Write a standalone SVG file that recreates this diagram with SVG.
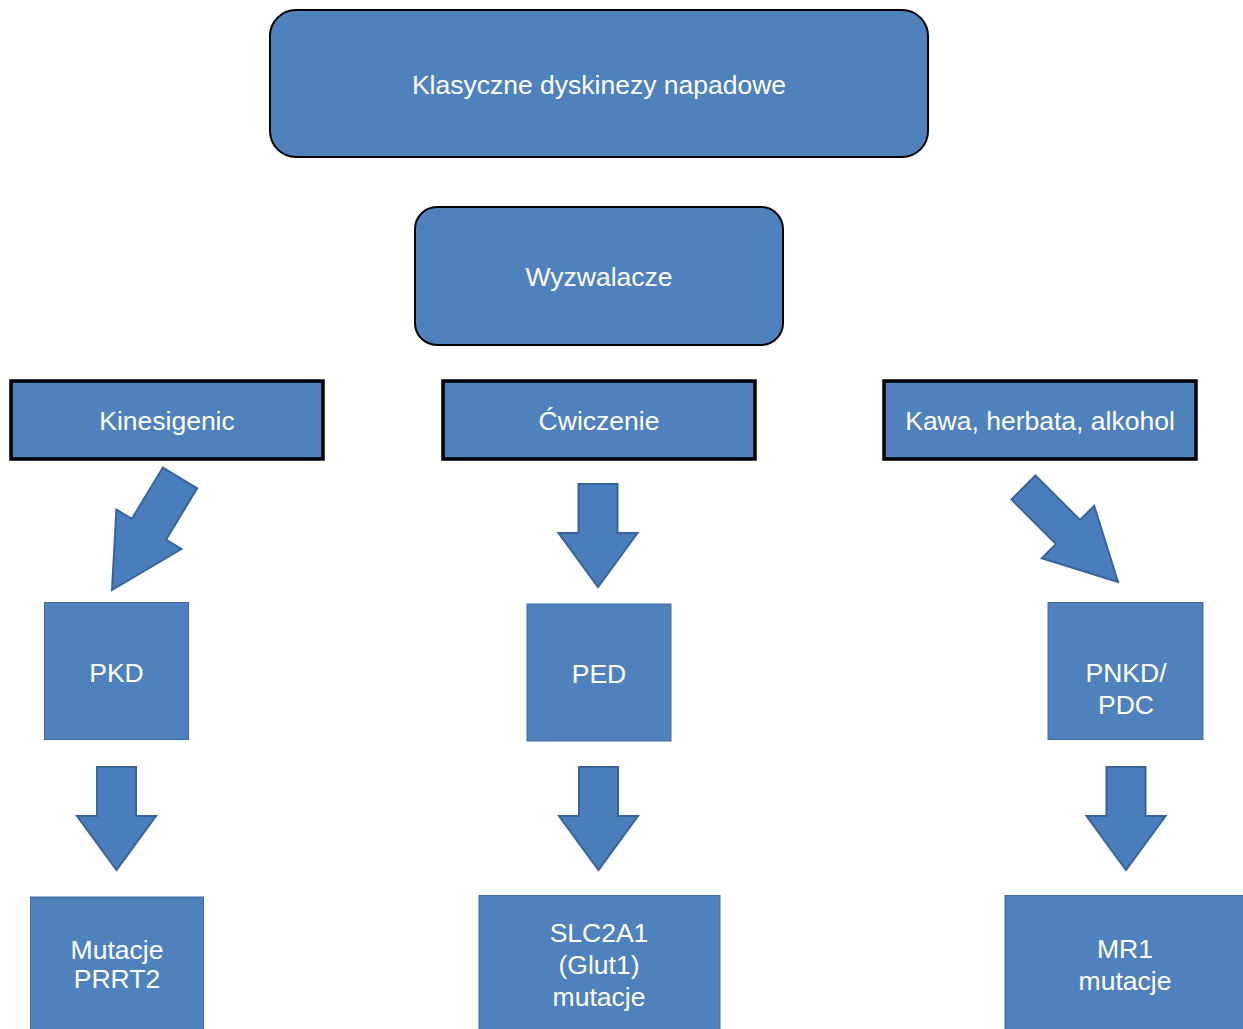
<svg xmlns="http://www.w3.org/2000/svg" width="1243" height="1029" viewBox="0 0 1243 1029">
<defs>
<style>
.rbox{fill:#4f81bd;stroke:#000;stroke-width:2}
.tbox{fill:#4f81bd;stroke:#000;stroke-width:3.5}
.box{fill:#4f81bd;stroke:#3f6d9f;stroke-width:1}
.arr{fill:#4a7dbb;stroke:#37659a;stroke-width:2;stroke-linejoin:miter}
text{font-family:"Liberation Sans",Arial,sans-serif;font-size:26.5px;fill:#fff;text-anchor:middle}
</style>
<polygon id="down" points="-19.5,0 19.5,0 19.5,49 39.5,49 0,103 -39.5,49 -19.5,49"/>
</defs>
<rect width="1243" height="1029" fill="#fff"/>
<g id="connectors">
<polygon class="arr" points="162.9,467.6 197.1,488.4 166,539.7 181.4,549 112,590 116.4,509.6 131.8,518.9"/>
<use href="#down" class="arr" x="598" y="484"/>
<polygon class="arr" points="1035.5,475.5 1080,520 1094.2,505.8 1118,582 1041.8,558.2 1056,544 1011.5,499.5"/>
<use href="#down" class="arr" x="116.5" y="767"/>
<use href="#down" class="arr" x="598.5" y="767"/>
<use href="#down" class="arr" x="1126" y="767"/>
</g>
<g id="n-title"><rect class="rbox" x="270" y="10" width="658" height="147" rx="26"/><text x="599" y="94">Klasyczne dyskinezy napadowe</text></g>
<g id="n-wyzwalacze"><rect class="rbox" x="415" y="207" width="368" height="138" rx="22"/><text x="599" y="286">Wyzwalacze</text></g>
<g id="n-kinesigenic"><rect class="tbox" x="11" y="381" width="312" height="78"/><text x="167" y="430">Kinesigenic</text></g>
<g id="n-cwiczenie"><rect class="tbox" x="443" y="381" width="312" height="78"/><text x="599" y="430">Ćwiczenie</text></g>
<g id="n-kawa"><rect class="tbox" x="884" y="381" width="312" height="78"/><text x="1040" y="430">Kawa, herbata, alkohol</text></g>
<g id="n-pkd"><rect class="box" x="44.5" y="602.5" width="144" height="137"/><text x="116.5" y="682">PKD</text></g>
<g id="n-ped"><rect class="box" x="527" y="604" width="144" height="137"/><text x="599" y="683">PED</text></g>
<g id="n-pnkd"><rect class="box" x="1048" y="602.5" width="155" height="137"/><text x="1126" y="682">PNKD/</text><text x="1126" y="714">PDC</text></g>
<g id="n-prrt2"><rect class="box" x="30.5" y="897" width="173" height="140"/><text x="117" y="959">Mutacje</text><text x="117" y="988">PRRT2</text></g>
<g id="n-slc2a1"><rect class="box" x="479" y="895.5" width="241" height="140"/><text x="599" y="942">SLC2A1</text><text x="599" y="974">(Glut1)</text><text x="599" y="1006">mutacje</text></g>
<g id="n-mr1"><rect class="box" x="1005" y="895.5" width="245" height="140"/><text x="1125" y="958">MR1</text><text x="1125" y="990">mutacje</text></g>
</svg>
